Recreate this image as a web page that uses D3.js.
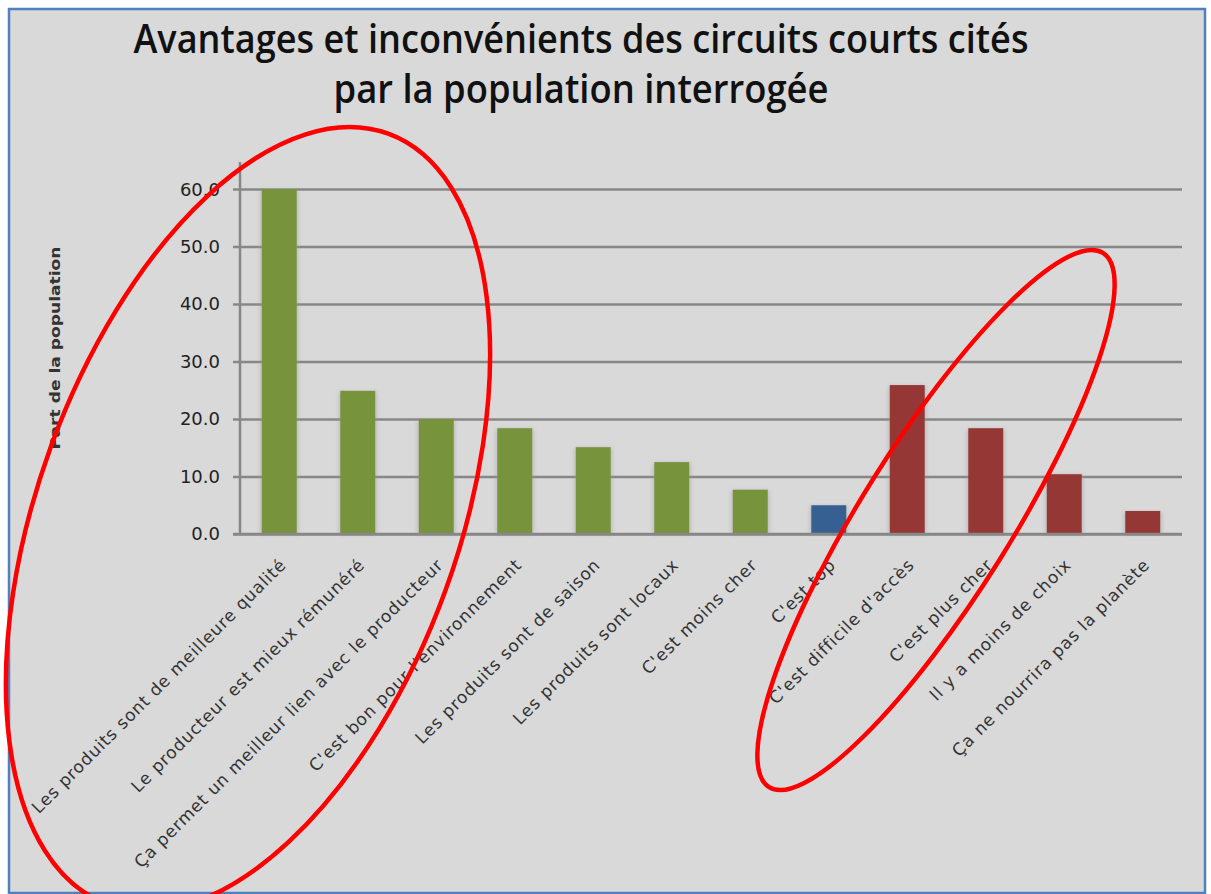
<!DOCTYPE html>
<html>
<head>
<meta charset="utf-8">
<script src="https://cdn.jsdelivr.net/npm/d3@7"></script>
<style>
  body { margin: 0; background: #fff; }
  svg { display: block; }
</style>
</head>
<body>
<script>
// valeurs
const categories = [
  "Les produits sont de meilleure qualité",
  "Le producteur est mieux rémunéré",
  "Ça permet un meilleur lien avec le producteur",
  "C'est bon pour l'environnement",
  "Les produits sont de saison",
  "Les produits sont locaux",
  "C'est moins cher",
  "C'est top",
  "C'est difficile d'accès",
  "C'est plus cher",
  "Il y a moins de choix",
  "Ça ne nourrira pas la planète"
]
const values = [60.0, 24.9, 20.0, 18.4, 15.1, 12.5, 7.7, 5.0, 25.9, 18.4, 10.4, 4.0]
const groups = ["avantage", "avantage", "avantage", "avantage", "avantage", "avantage", "avantage",
                "neutre", "inconvenient", "inconvenient", "inconvenient", "inconvenient"]
const yTicks = [0, 10, 20, 30, 40, 50, 60]
const yMax = 64.7
const titleLines = ["Avantages et inconvénients des circuits courts cités", "par la population interrogée"]
const yLabel = "Part de la population"

const groupColor = {avantage: "#77933c", neutre: "#376092", inconvenient: "#953735"}

const W = 1211, H = 894
const margin = {top: 162, right: 29, bottom: 360, left: 240}
const width = W - margin.left - margin.right
const height = H - margin.top - margin.bottom

const svg = d3.select("body").append("svg")
    .attr("width", W)
    .attr("height", H)

// ombre douce des barres
const defs = svg.append("defs")
defs.append("filter")
    .attr("id", "shadow")
    .attr("x", "-50%").attr("y", "-10%")
    .attr("width", "200%").attr("height", "120%")
  .append("feGaussianBlur")
    .attr("stdDeviation", 2.2)

// fond et cadre
svg.append("rect")
    .attr("x", 9).attr("y", 9)
    .attr("width", 1196).attr("height", 884)
    .attr("fill", "#d9d9d9")
    .attr("stroke", "#4f81bd")
    .attr("stroke-width", 2.5)

// titre
svg.selectAll(".title")
    .data(titleLines)
    .enter()
    .append("text")
        .attr("class", "title")
        .attr("x", 581)
        .attr("y", (d, i) => 53 + i * 50)
        .attr("text-anchor", "middle")
        .attr("textLength", (d, i) => i == 0 ? 895 : 495)
        .attr("lengthAdjust", "spacingAndGlyphs")
        .style("font-family", "'Open Sans', sans-serif")
        .style("font-size", "40px")
        .style("font-weight", 600)
        .style("fill", "#111")
        .text(d => d)

const g = svg.append("g")
    .attr("transform", "translate(" + margin.left + "," + margin.top + ")")

let x = d3.scaleBand()
    .domain(categories)
    .range([0, width])
    .paddingInner(0.555)
    .paddingOuter(0.2775)

let y = d3.scaleLinear()
    .domain([0, yMax])
    .range([height, 0])

// grille horizontale
g.append("g")
    .call(d3.axisLeft(y).tickValues(yTicks).tickSize(-width - 7).tickFormat(""))
    .attr("transform", "translate(-7,0)")
    .call(a => a.select(".domain").remove())
    .selectAll("line")
        .attr("stroke", "#878787")
        .attr("stroke-width", 2.5)

// axe vertical
g.append("line")
    .attr("x1", 0).attr("x2", 0)
    .attr("y1", y(yMax)).attr("y2", y(0))
    .attr("stroke", "#878787")
    .attr("stroke-width", 2.5)

// etiquettes des graduations
g.selectAll(".ytick")
    .data(yTicks)
    .enter()
    .append("text")
        .attr("class", "ytick")
        .attr("x", -20)
        .attr("y", d => y(d))
        .attr("dy", "0.36em")
        .attr("text-anchor", "end")
        .style("font-family", "'DejaVu Sans', sans-serif")
        .style("font-size", "18px")
        .style("fill", "#222")
        .text(d => d.toFixed(1))

// ombres
g.selectAll(".shadow")
    .data(values)
    .enter()
    .append("rect")
        .attr("x", (d, i) => x(categories[i]) - 1)
        .attr("y", d => y(d) + 1)
        .attr("width", x.bandwidth() + 2)
        .attr("height", d => height - y(d) - 1)
        .attr("fill", "#9a9a9a")
        .attr("opacity", 0.55)
        .attr("filter", "url(#shadow)")

// barres
g.selectAll(".bar")
    .data(values)
    .enter()
    .append("rect")
        .attr("class", "bar")
        .attr("x", (d, i) => x(categories[i]))
        .attr("y", d => y(d))
        .attr("width", x.bandwidth())
        .attr("height", d => height - y(d))
        .attr("fill", (d, i) => groupColor[groups[i]])

// ligne de base par-dessus les ombres
g.append("line")
    .attr("x1", -7).attr("x2", width)
    .attr("y1", y(0)).attr("y2", y(0))
    .attr("stroke", "#878787")
    .attr("stroke-width", 2.5)

// etiquettes des categories
g.selectAll(".xlabel")
    .data(categories)
    .enter()
    .append("text")
        .attr("class", "xlabel")
        .attr("text-anchor", "end")
        .attr("transform", d => "translate(" + (x(d) + x.bandwidth() / 2 + 8) + "," + (height + 32) + ")rotate(-45)")
        .style("font-family", "'DejaVu Sans', sans-serif")
        .style("font-size", "17px")
        .style("letter-spacing", "0.8px")
        .style("fill", "#333")
        .text(d => d)

// titre de l'axe y
svg.append("text")
    .attr("transform", "translate(60,348)rotate(-90)")
    .attr("text-anchor", "middle")
    .attr("textLength", 203)
    .attr("lengthAdjust", "spacingAndGlyphs")
    .style("font-family", "'DejaVu Sans', sans-serif")
    .style("font-size", "14px")
    .style("font-weight", "bold")
    .style("fill", "#333")
    .text(yLabel)

// annotations a la main (ellipses rouges)
svg.append("ellipse")
    .attr("cx", 248).attr("cy", 519)
    .attr("rx", 210).attr("ry", 410)
    .attr("transform", "rotate(20,248,519)")
    .attr("fill", "none")
    .attr("stroke", "#ff0000")
    .attr("stroke-width", 4.5)

svg.append("ellipse")
    .attr("cx", 936).attr("cy", 520)
    .attr("rx", 75).attr("ry", 315)
    .attr("transform", "rotate(32,936,520)")
    .attr("fill", "none")
    .attr("stroke", "#ff0000")
    .attr("stroke-width", 4.5)
</script>
</body>
</html>
